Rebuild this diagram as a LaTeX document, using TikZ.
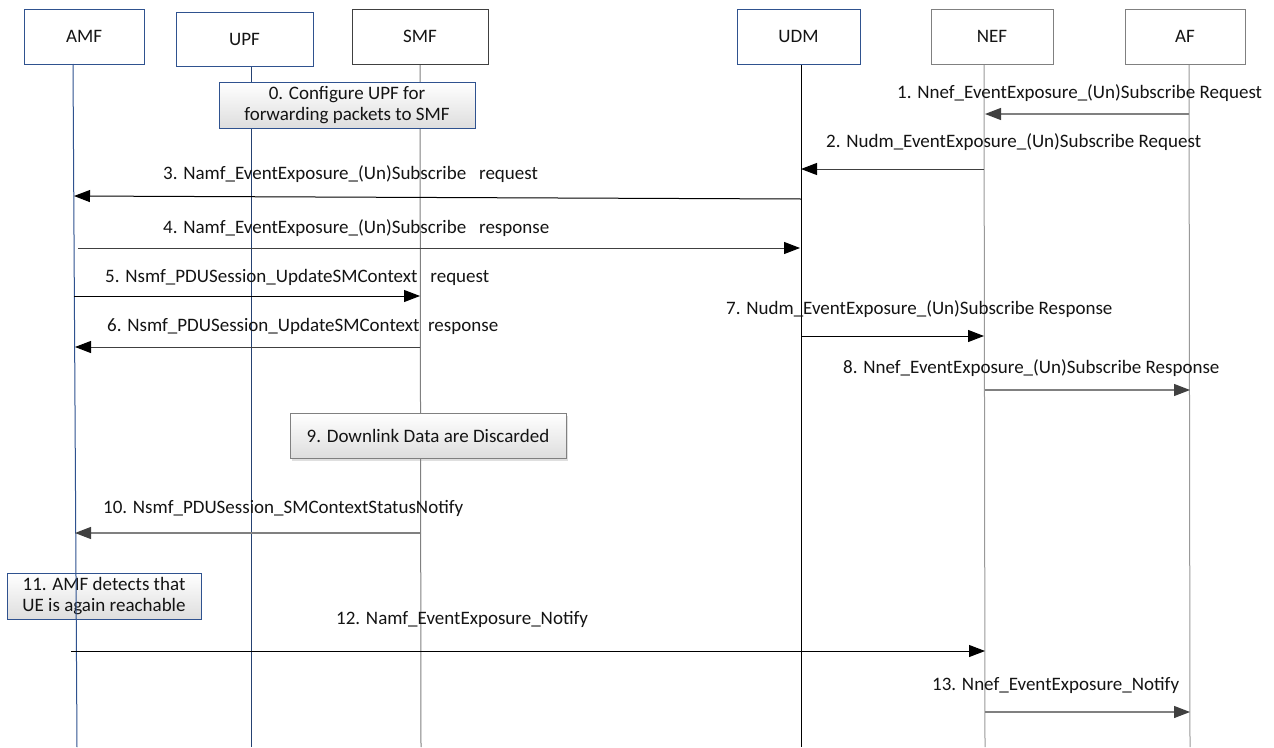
\documentclass[tikz,border=0pt]{standalone}
\usepackage{fontspec}
\setmainfont{Carlito}
\usetikzlibrary{arrows.meta,shadows}
\definecolor{bluebd}{RGB}{47,82,143}
\definecolor{darkln}{RGB}{64,64,64}
\definecolor{grayln}{RGB}{128,128,128}
\definecolor{txt}{RGB}{20,20,20}
\tikzset{
  hdr/.style={draw, line width=1pt, fill=white, text=txt, inner sep=0pt},
  life/.style={line width=1pt},
  note/.style={draw=bluebd, line width=1pt, top color=white, bottom color=black!13, align=center, text=txt, inner sep=0pt},
  msg/.style={line width=1pt, -{Triangle[length=16pt,width=12pt]}},
  msggray/.style={line width=1.2pt, draw=grayln, -{Triangle[length=16pt,width=12pt,color=darkln]}},
  msgdark/.style={line width=1pt, draw=darkln, -{Triangle[length=16pt,width=12pt,color=black]}},
  lbl/.style={anchor=west, text=txt, inner sep=0pt}
}
\begin{document}
\begin{tikzpicture}[x=1pt,y=-1pt,font=\fontsize{19}{21}\selectfont]
\useasboundingbox[fill=white] (0,0) rectangle (1274,747);

% lifeline coordinates
\coordinate (upfT) at (251,66);  \coordinate (upfB) at (251,747);
\coordinate (smfT) at (420,64);  \coordinate (smfB) at (421,747);
\coordinate (udmT) at (801,64);  \coordinate (udmB) at (801,747);
\coordinate (nefT) at (984,64);  \coordinate (nefB) at (985,747);
\coordinate (afT)  at (1189,64); \coordinate (afB)  at (1190,747);
\coordinate (amfT) at (73,64);   \coordinate (amfB) at (77,747);

\draw[life, draw=bluebd!80!black] (upfT) -- (upfB);
\draw[life, draw=grayln] (smfT) -- (smfB);
\draw[life, draw=black] (udmT) -- (udmB);
\draw[life, draw=grayln!80] (nefT) -- (nefB);
\draw[life, draw=grayln!80] (afT) -- (afB);

% header boxes
\node[hdr, draw=bluebd, minimum width=120, minimum height=55] (amf) at (84,36.5) {AMF};
\node[hdr, draw=bluebd, minimum width=137, minimum height=54] (upf) at (244.5,39) {UPF};
\node[hdr, draw=darkln, minimum width=136, minimum height=55] (smf) at (420,36.5) {SMF};
\node[hdr, draw=bluebd, minimum width=123, minimum height=55] (udm) at (798.5,36.5) {UDM};
\node[hdr, draw=grayln, minimum width=122, minimum height=55] (nef) at (992,36.5) {NEF};
\node[hdr, draw=grayln, minimum width=120, minimum height=55] (af) at (1185,36.5) {AF};

% note boxes
\node[note, minimum width=256, minimum height=46] (n0) at (347,105) {0. Configure UPF for\\forwarding packets to SMF};
\node[note, draw=grayln, drop shadow={shadow xshift=2pt, shadow yshift=-3pt, opacity=0.25}, minimum width=276, minimum height=45] (n9) at (428,435.5) {9. Downlink Data are Discarded};
\node[note, minimum width=194, minimum height=46] (n11) at (104,596) {11. AMF detects that\\UE is again reachable};

\draw[life, draw=bluebd] (amfT) -- (amfB);

% message endpoints
\coordinate (m1s) at (1189,114);  \coordinate (m1e) at (985,114);
\coordinate (m2s) at (984,169);   \coordinate (m2e) at (801,169);
\coordinate (m3s) at (801,199);   \coordinate (m3e) at (74,196);
\coordinate (m4s) at (78,248);    \coordinate (m4e) at (800,248);
\coordinate (m5s) at (74,296);    \coordinate (m5e) at (420,296);
\coordinate (m6s) at (420,347);   \coordinate (m6e) at (75,347);
\coordinate (m7s) at (801,336);   \coordinate (m7e) at (984,336);
\coordinate (m8s) at (985,390);   \coordinate (m8e) at (1190,390);
\coordinate (m10s) at (421,533);  \coordinate (m10e) at (75,533);
\coordinate (m12s) at (71,651);   \coordinate (m12e) at (985,651);
\coordinate (m13s) at (985,712);  \coordinate (m13e) at (1190,712);

\draw[msggray] (m1s) -- (m1e);
\draw[msgdark] (m2s) -- (m2e);
\draw[msg] (m3s) -- (m3e);
\draw[msgdark] (m4s) -- (m4e);
\draw[msg] (m5s) -- (m5e);
\draw[msgdark] (m6s) -- (m6e);
\draw[msg] (m7s) -- (m7e);
\draw[msggray] (m8s) -- (m8e);
\draw[msggray] (m10s) -- (m10e);
\draw[msg] (m12s) -- (m12e);
\draw[msggray] (m13s) -- (m13e);

% labels
\node[lbl] (l1) at (897,93) {1. Nnef\_EventExposure\_(Un)Subscribe Request};
\node[lbl] (l2) at (826,142) {2. Nudm\_EventExposure\_(Un)Subscribe Request};
\node[lbl] (l3) at (163,174) {3. Namf\_EventExposure\_(Un)Subscribe\ \ \ request};
\node[lbl] (l4) at (163,228) {4. Namf\_EventExposure\_(Un)Subscribe\ \ \ response};
\node[lbl] (l5) at (105,277) {5. Nsmf\_PDUSession\_UpdateSMContext\ \ \ request};
\node[lbl] (l6) at (107,326) {6. Nsmf\_PDUSession\_UpdateSMContext\ \ response};
\node[lbl] (l7) at (726,309) {7. Nudm\_EventExposure\_(Un)Subscribe Response};
\node[lbl] (l8) at (843,368) {8. Nnef\_EventExposure\_(Un)Subscribe Response};
\node[lbl] (l10) at (103,508) {10. Nsmf\_PDUSession\_SMContextStatusNotify};
\node[lbl] (l12) at (336,619) {12. Namf\_EventExposure\_Notify};
\node[lbl] (l13) at (932,685) {13. Nnef\_EventExposure\_Notify};
\end{tikzpicture}
\end{document}
